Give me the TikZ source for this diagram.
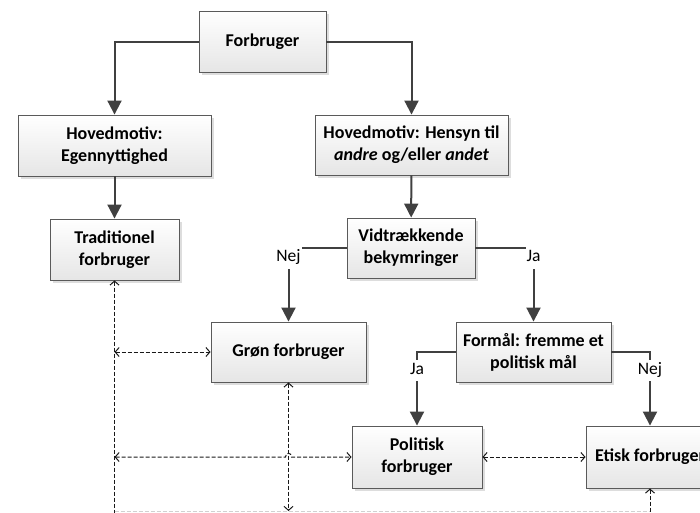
\documentclass[tikz,border=0pt]{standalone}
\usepackage{fontspec}
\setmainfont{Carlito}
\usetikzlibrary{arrows.meta,shadows,calc}
\definecolor{linegray}{HTML}{404040}
\definecolor{boxedge}{HTML}{5A5A5A}
\begin{document}
\begin{tikzpicture}[x=1pt,y=-1pt,
  box/.style={draw=boxedge, line width=0.9pt, top color=white, bottom color=black!10,
    drop shadow={shadow xshift=2.5pt, shadow yshift=-2.5pt, fill=black!22, opacity=0.6},
    align=center, font=\fontsize{18}{22}\selectfont\bfseries, inner sep=0pt},
  flow/.style={draw=linegray, line width=2pt, -{Triangle[length=14pt,width=14pt]}},
  dashline/.style={draw=black!90, line width=1pt, dash pattern=on 4pt off 2pt},
  graydash/.style={draw=black!18, line width=1pt, dash pattern=on 4pt off 2pt},
  lbl/.style={fill=white, font=\fontsize{17.5}{21}\selectfont, text height=11.5pt,
    text depth=4pt, inner xsep=1pt, inner ysep=3.5pt},
  lblb/.style={lbl, inner ysep=2.5pt},
  >={Straight Barb[length=4pt,width=9pt]}
]
\useasboundingbox (0,0) rectangle (700,512);
\clip (0,0) rectangle (700,512);

% boxes
\node[box, minimum width=127pt, minimum height=61pt] (forb) at (262.5,41.5) {Forbruger};
\node[box, minimum width=193pt, minimum height=61pt] (egen) at (114.5,145.5) {Hovedmotiv:\\Egennyttighed};
\node[box, minimum width=193pt, minimum height=60pt] (hens) at (411.5,145) {Hovedmotiv: Hensyn til\\\textit{andre} og/eller \textit{andet}};
\node[box, minimum width=129pt, minimum height=61pt] (trad) at (114.5,249.5) {Traditionel\\forbruger};
\node[box, minimum width=128pt, minimum height=60pt] (vidt) at (411,248) {Vidtrækkende\\bekymringer};
\node[box, minimum width=155pt, minimum height=60pt] (gron) at (288.5,352) {Grøn forbruger};
\node[box, minimum width=155pt, minimum height=60pt] (form) at (533.5,352) {Formål: fremme et\\politisk mål};
\node[box, minimum width=130pt, minimum height=62pt] (pol) at (417,457) {Politisk\\forbruger};
\node[box, minimum width=128pt, minimum height=62pt] (etisk) at (650,457) {Etisk forbruger};

% decision flow
\draw[flow] (forb.west) -| (egen.north);
\draw[flow] (forb.east) -| (hens.north);
\draw[flow] (egen) -- (trad);
\draw[flow] (hens) -- (vidt);
\draw[flow] (vidt.west) -| (gron.north);
\draw[flow] (vidt.east) -| (form.north);
\draw[flow] (form.west) -| (pol.north);
\draw[flow] (form.east) -| (etisk.north);

% branch labels
\node[lbl] at ($(vidt.west -| gron.north)+(0,10.2)$) {Nej};
\node[lbl] at ($(vidt.east -| form.north)+(0,10.2)$) {Ja};
\node[lblb] at ($(form.west -| pol.north)+(0,18.5)$) {Ja};
\node[lblb] at ($(form.east -| etisk.north)+(0,18.5)$) {Nej};

% relations between consumer types
\coordinate (lbot) at (114.5,520);
\coordinate (gbot) at (288.5,511);
\coordinate (ebot) at (650,520);
\coordinate (hopL) at ($(gron.south |- pol.west)+(-3,0)$);
\coordinate (hopR) at ($(gron.south |- pol.west)+(3,0)$);
\draw[dashline,<-] (trad.south) -- (lbot);
\draw[dashline,<->] (trad.south |- gron.west) -- (gron.west);
\draw[dashline,<->] (gron.south) -- (gbot);
\draw[dashline,<->] (trad.south |- pol.west) -- (hopL)
  .. controls ($(hopL)+(0,-5)$) and ($(hopR)+(0,-5)$) .. (hopR) -- (pol.west);
\draw[dashline,<->] (pol.east) -- (etisk.west);
\draw[dashline,<-] (etisk.south) -- (ebot);

\coordinate (gl) at (114.5,511.5);
\coordinate (gr) at (650,511.5);
\draw[graydash] (gl) -- (gr);
\end{tikzpicture}
\end{document}
